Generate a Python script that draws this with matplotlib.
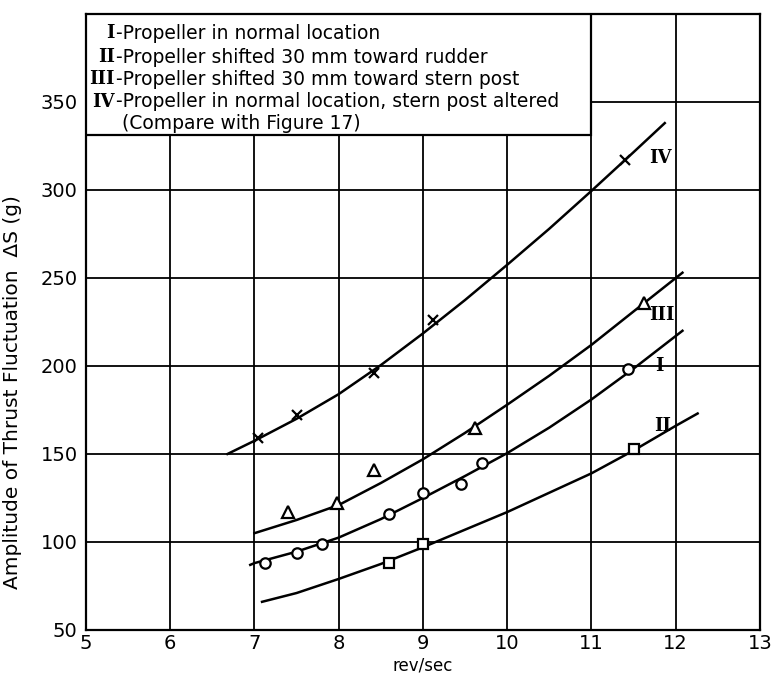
import matplotlib
matplotlib.use('Agg')
import matplotlib.pyplot as plt
import matplotlib.patches as mpatches

plt.rcParams['font.family'] = ['DejaVu Sans']

# ── measured points (rev/sec, thrust fluctuation g) ──
x_I = [7.12, 7.5, 7.8, 8.6, 9.0, 9.45, 9.7, 11.43]
y_I = [88, 94, 99, 116, 128, 133, 145, 198]
x_II = [8.6, 9.0, 11.5]
y_II = [88, 99, 153]
x_III = [7.4, 7.98, 8.42, 9.62, 11.62]
y_III = [117, 122, 141, 165, 236]
x_IV = [7.04, 7.5, 8.42, 9.12, 11.4]
y_IV = [159, 172, 196, 226, 317]

# ── faired curves ──
cx_I = [6.95, 7.0, 7.5, 8.0, 8.5, 9.0, 9.5, 10.0, 10.5, 11.0, 11.5, 12.08]
cy_I = [87, 88, 94.5, 102.5, 113, 125, 137.5, 150.5, 165, 181, 198.5, 220]
cx_II = [7.09, 7.5, 8.0, 8.5, 9.0, 9.5, 10.0, 10.5, 11.0, 11.5, 12.0, 12.26]
cy_II = [66, 71, 79, 87.5, 97, 107, 117, 128, 139, 152, 166, 173]
cx_III = [7.0, 7.5, 8.0, 8.5, 9.0, 9.5, 10.0, 10.5, 11.0, 11.5, 12.08]
cy_III = [105, 112.5, 121, 133.5, 147, 162, 178, 194.5, 212, 231, 253]
cx_IV = [6.68, 7.0, 7.5, 8.0, 8.5, 9.0, 9.5, 10.0, 10.5, 11.0, 11.5, 11.87]
cy_IV = [150, 157.5, 170, 184, 200.5, 218.5, 237.5, 257.5, 278, 299.5, 321.5, 338]

curve_tags = ['IV', 'III', 'I', 'II']
tag_x = [11.82, 11.84, 11.81, 11.85]
tag_y = [318, 229, 200, 166]

legend_num = ['I', 'II', 'III', 'IV', '']
legend_txt = ['-Propeller in normal location',
              '-Propeller shifted 30 mm toward rudder',
              '-Propeller shifted 30 mm toward stern post',
              '-Propeller in normal location, stern post altered',
              ' (Compare with Figure 17)']
legend_y = [389, 375.5, 363, 350, 338]

fig = plt.figure(figsize=(7.71, 6.75), dpi=100)
ax = fig.add_axes([0.1115, 0.0667, 0.8742, 0.9126])
ax.set_xlim(5, 13)
ax.set_ylim(50, 400)
ax.set_xticks(range(5, 14))
ax.set_yticks(range(50, 351, 50))
ax.grid(True, color='black', lw=1.3)
ax.tick_params(length=0, labelsize=14, pad=6)
ax.tick_params(axis='x', pad=3)
for s in ax.spines.values():
    s.set_linewidth(1.6)

lkw = dict(color='black', lw=1.8, zorder=4)
ax.plot(cx_I, cy_I, **lkw)
ax.plot(cx_II, cy_II, **lkw)
ax.plot(cx_III, cy_III, **lkw)
ax.plot(cx_IV, cy_IV, **lkw)

mkw = dict(ls='none', mfc='white', mec='black', mew=1.6, zorder=5)
ax.plot(x_I, y_I, marker='o', ms=7.5, **mkw)
ax.plot(x_II, y_II, marker='s', ms=7, **mkw)
ax.plot(x_III, y_III, marker='^', ms=8, **mkw)
ax.plot(x_IV, y_IV, marker='x', ms=7, **mkw)

for t, tx, ty in zip(curve_tags, tag_x, tag_y):
    ax.text(tx, ty, t, family='DejaVu Serif', fontweight='bold', fontsize=13,
            ha='center', va='center', zorder=6)

# legend box sits over the grid in the upper-left corner
ax.add_patch(mpatches.Rectangle((5, 331), 6, 69, facecolor='white',
                                edgecolor='black', lw=1.6, zorder=3))
for num, txt, ly in zip(legend_num, legend_txt, legend_y):
    ax.text(5.345, ly, num, family='DejaVu Serif', fontweight='bold',
            fontsize=13, ha='right', va='center', zorder=6)
    ax.text(5.36, ly, txt, fontsize=13.5, ha='left', va='center', zorder=6)

ax.set_xlabel('rev/sec', fontsize=12)
ax.xaxis.set_label_coords(0.5, -0.043)
ax.set_ylabel('Amplitude of Thrust Fluctuation  ΔS (g)', fontsize=14.5)
ax.yaxis.set_label_coords(-0.095, 0.386)

fig.savefig('out.png', dpi=100, facecolor='white')
